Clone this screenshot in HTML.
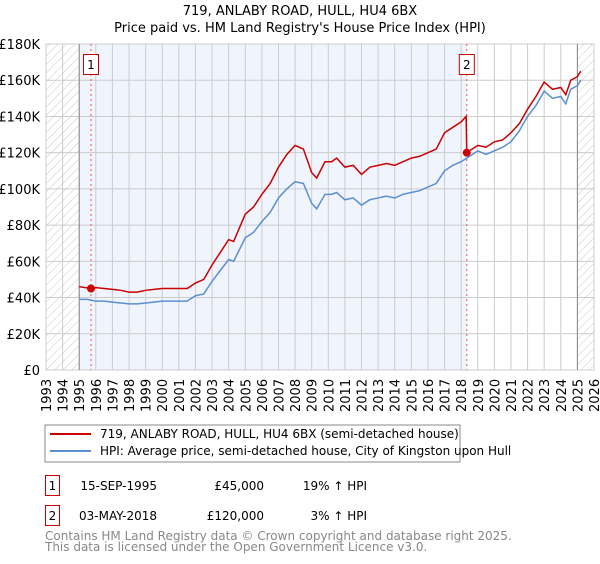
<!DOCTYPE html>
<html><head><meta charset="utf-8"><style>
body{margin:0;background:#fff;font-family:"DejaVu Sans","Liberation Sans",sans-serif;}
svg text{font-family:"DejaVu Sans","Liberation Sans",sans-serif;}
</style></head><body>
<svg id="c" width="600" height="560" xmlns="http://www.w3.org/2000/svg">
<defs><pattern id="h" width="6" height="6" patternUnits="userSpaceOnUse" patternTransform="rotate(45)"><line x1="0" y1="0" x2="0" y2="6" stroke="#bbb" stroke-width="0.8"/></pattern></defs>
<text x="300" y="15" text-anchor="middle" font-size="13">719, ANLABY ROAD, HULL, HU4 6BX</text>
<text x="300" y="32" text-anchor="middle" font-size="13">Price paid vs. HM Land Registry's House Price Index (HPI)</text>
<g id="plot"></g>
<rect x="45" y="425" width="415" height="37" fill="#fff" stroke="#888"/>
<line x1="50" y1="434" x2="91" y2="434" stroke="#cc0000" stroke-width="2"/>
<text x="100" y="438" font-size="12">719, ANLABY ROAD, HULL, HU4 6BX (semi-detached house)</text>
<line x1="50" y1="451" x2="91" y2="451" stroke="#5b8fd0" stroke-width="2"/>
<text x="100" y="455" font-size="12">HPI: Average price, semi-detached house, City of Kingston upon Hull</text>
<g font-size="12">
<rect x="45.5" y="475.5" width="14" height="20" fill="none" stroke="#c00"/>
<text x="52.5" y="490" text-anchor="middle">1</text>
<text x="157" y="490" text-anchor="end">15-SEP-1995</text>
<text x="264" y="490" text-anchor="end">£45,000</text>
<text x="367" y="490" text-anchor="end">19% ↑ HPI</text>
<rect x="45.5" y="505.5" width="14" height="20" fill="none" stroke="#c00"/>
<text x="52.5" y="520" text-anchor="middle">2</text>
<text x="157" y="520" text-anchor="end">03-MAY-2018</text>
<text x="264" y="520" text-anchor="end">£120,000</text>
<text x="367" y="520" text-anchor="end">3% ↑ HPI</text>
</g>
<text x="45" y="540" font-size="12" fill="#888">Contains HM Land Registry data © Crown copyright and database right 2025.</text>
<text x="45" y="551" font-size="12" fill="#888">This data is licensed under the Open Government Licence v3.0.</text>
</svg>
<script>
const hpiYears=[1995,1995.5,1996,1996.5,1997,1997.5,1998,1998.5,1999,1999.5,2000,2000.5,2001,2001.5,2002,2002.5,2003,2003.5,2004,2004.3,2005,2005.5,2006,2006.5,2007,2007.5,2008,2008.5,2009,2009.3,2009.8,2010.2,2010.5,2011,2011.5,2012,2012.5,2013,2013.5,2014,2014.5,2015,2015.5,2016,2016.5,2017,2017.5,2018,2018.34,2019,2019.5,2020,2020.5,2021,2021.5,2022,2022.5,2023,2023.5,2024,2024.3,2024.6,2025,2025.2];
const hpiValues=[39,39,38,38,37.5,37,36.5,36.5,37,37.5,38,38,38,38,41,42,49,55,61,60,73,76,82,87,95,100,104,103,92,89,97,97,98,94,95,91,94,95,96,95,97,98,99,101,103,110,113,115,117,121,119,121,123,126,132,140,146,154,150,151,147,155,157,160];
const redYears=[1995,1995.71,1996,1996.5,1997,1997.5,1998,1998.5,1999,1999.5,2000,2000.5,2001,2001.5,2002,2002.5,2003,2003.5,2004,2004.3,2005,2005.5,2006,2006.5,2007,2007.5,2008,2008.5,2009,2009.3,2009.8,2010.2,2010.5,2011,2011.5,2012,2012.5,2013,2013.5,2014,2014.5,2015,2015.5,2016,2016.5,2017,2017.5,2018,2018.3,2018.34,2019,2019.5,2020,2020.5,2021,2021.5,2022,2022.5,2023,2023.5,2024,2024.3,2024.6,2025,2025.2];
const redValues=[46,45,45.5,45,44.5,44,43,43,44,44.5,45,45,45,45,48,50,58,65,72,71,86,90,97,103,112,119,124,122,109,106,115,115,117,112,113,108,112,113,114,113,115,117,118,120,122,131,134,137,140,120,124,123,126,127,131,136,144,151,159,155,156,152,160,162,165];
const yTicks=[0,20,40,60,80,100,120,140,160,180];
const xTicks=[];for(let y=1993;y<=2026;y++)xTicks.push(y);
const sales=[{label:'1',year:1995.71,value:45},{label:'2',year:2018.34,value:120}];
const X0=46,X1=594,Y0=370,Y1=44,Ymin=1993,Ymax=2026;
const xs=v=>X0+(v-Ymin)/(Ymax-Ymin)*(X1-X0);
const ys=v=>Y0-(v/180)*(Y0-Y1);
const NS='http://www.w3.org/2000/svg',g=document.getElementById('plot');
function mk(t,a){const e=document.createElementNS(NS,t);for(const k in a)e.setAttribute(k,a[k]);g.appendChild(e);return e;}
let e;
e=mk('rect',{x:xs(1995),y:Y1,width:xs(2018.34)-xs(1995),height:Y0-Y1,fill:'#f0f4fd'});


e=mk('rect',{x:X0,y:Y1,width:xs(1995)-X0,height:Y0-Y1,fill:'url(#h)'});


e=mk('rect',{x:xs(2025),y:Y1,width:X1-xs(2025),height:Y0-Y1,fill:'url(#h)'});


yTicks.forEach(t=>{
 e=mk('line',{x1:X0,x2:X1,y1:ys(t),y2:ys(t),stroke:'#ccc'});
 
 
 e=mk('text',{x:40,y:ys(t)+5,'text-anchor':'end','font-size':'13'});e.textContent='£'+(t?t+'K':'0');
 
 
});
xTicks.forEach(t=>{
 e=mk('line',{x1:xs(t),x2:xs(t),y1:Y1,y2:Y0,stroke:'#ccc'});
 
 
 e=mk('text',{x:0,y:0,'font-size':'13',transform:`translate(${xs(t)+5},412) rotate(-90)`});e.textContent=t;
 
 
});
e=mk('rect',{x:X0,y:Y1,width:X1-X0,height:Y0-Y1,fill:'none',stroke:'#ccc'});


[1995,2025].forEach(t=>{e=mk('line',{x1:xs(t),x2:xs(t),y1:Y1,y2:Y0,stroke:'#888'});
 
 });
sales.forEach(s=>{
 e=mk('line',{x1:xs(s.year),x2:xs(s.year),y1:Y1,y2:Y0,stroke:'#e55','stroke-dasharray':'2,3'});
 
 
});
e=mk('polyline',{points:hpiYears.map((y,i)=>xs(y)+','+ys(hpiValues[i])).join(' '),fill:'none',stroke:'#5b8fd0','stroke-width':'1.5'});


e=mk('polyline',{points:redYears.map((y,i)=>xs(y)+','+ys(redValues[i])).join(' '),fill:'none',stroke:'#cc0000','stroke-width':'1.5'});


sales.forEach(s=>{
 e=mk('circle',{cx:xs(s.year),cy:ys(s.value),r:4,fill:'#cc0000'});
 
 
 e=mk('rect',{x:xs(s.year)-7.5,y:54.5,width:15,height:20,fill:'#fff',stroke:'#c00'});
 
 
 e=mk('text',{x:xs(s.year),y:69,'text-anchor':'middle','font-size':'12'});e.textContent=s.label;
 
 
});
</script>
</body></html>
